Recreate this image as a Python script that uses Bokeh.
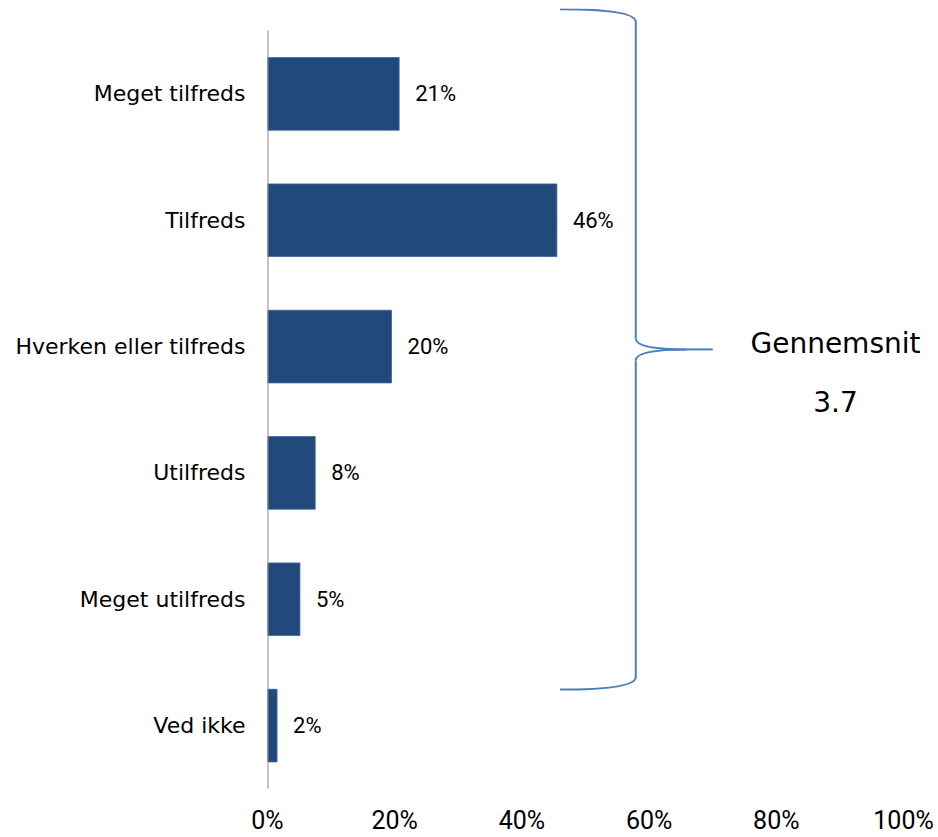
import numpy as np
from bokeh.plotting import figure
from bokeh.models import Range1d, FixedTicker, PrintfTickFormatter, ColumnDataSource
from bokeh.core.properties import value
from bokeh.embed import file_html
from bokeh.resources import INLINE

# ---- data ----
categories = ["Meget tilfreds", "Tilfreds", "Hverken eller tilfreds",
              "Utilfreds", "Meget utilfreds", "Ved ikke"]
shares = [20.7, 45.5, 19.5, 7.5, 5.1, 1.5]
share_labels = ["21%", "46%", "20%", "8%", "5%", "2%"]
x_ticks = [0, 20, 40, 60, 80, 100]
avg_title = "Gennemsnit"
avg_value = "3.7"
bracket_first = "Meget tilfreds"
bracket_last = "Meget utilfreds"

# ---- styles ----
BAR_COLOR = "#22497c"
BRACKET_COLOR = "#4a7ebb"
AXIS_GRAY = "#8a8a8a"
CAT_FONT = "DejaVu Sans"
NUM_FONT = "Roboto"

n = len(categories)
positions = [float(n - 1 - i) for i in range(n)]
pos_of = dict(zip(categories, positions))

src = ColumnDataSource(dict(cat=categories, pos=positions, share=shares, lab=share_labels))

p = figure(width=938, height=837, output_backend="svg", toolbar_location=None,
           x_range=Range1d(0, 105.5), y_range=Range1d(-0.506, 5.676),
           min_border_left=267, min_border_right=0, min_border_top=8,
           min_border_bottom=47)
p.outline_line_color = None
p.xgrid.visible = False
p.ygrid.visible = False
p.background_fill_color = "white"
p.border_fill_color = "white"

# bars
p.hbar(y="pos", left=0, right="share", height=0.575, source=src,
       fill_color=BAR_COLOR, line_color="#3a64a0", line_width=0.8)

# vertical category axis line
p.segment(x0=[0], y0=[min(positions) - 0.5], x1=[0], y1=[max(positions) + 0.5],
          line_color=AXIS_GRAY, line_width=2)

# value labels
p.text(x="share", y="pos", text="lab", source=src, x_offset=16,
       text_align="left", text_baseline="middle",
       text_font=value(NUM_FONT), text_font_size="22px", text_color="#000000")

# y axis
ya = p.yaxis[0]
ya.ticker = FixedTicker(ticks=positions)
ya.major_label_overrides = {pos: c for c, pos in zip(categories, positions)}
ya.axis_line_color = None
ya.major_tick_line_color = None
ya.minor_tick_line_color = None
ya.major_tick_out = 0
ya.major_tick_in = 0
ya.minor_tick_out = 0
ya.minor_tick_in = 0
ya.major_label_standoff = 22
ya.major_label_text_font = CAT_FONT
ya.major_label_text_font_size = "22px"
ya.major_label_text_color = "#000000"

# x axis
xa = p.xaxis[0]
xa.ticker = FixedTicker(ticks=x_ticks)
xa.formatter = PrintfTickFormatter(format="%d%%")
xa.axis_line_color = None
xa.major_tick_line_color = None
xa.minor_tick_line_color = None
xa.major_tick_out = 0
xa.major_tick_in = 0
xa.minor_tick_out = 0
xa.minor_tick_in = 0
xa.major_label_standoff = 16
xa.major_label_text_font = NUM_FONT
xa.major_label_text_font_size = "25px"
xa.major_label_text_color = "#000000"

# curly bracket spanning the rated answers
top = pos_of[bracket_first] + 0.67
bot = pos_of[bracket_last] - 0.715
mid = (top + bot) / 2
xa_arm, xv, xc, xtip = 46.0, 57.9, 65.9, 70.0
bend = 0.10
mbend = 0.087
p.quadratic(x0=[xa_arm, xv, xv, xv], y0=[top, mid + mbend, mid - mbend, bot + bend],
            x1=[xv, xc, xc, xa_arm], y1=[top - bend, mid, mid, bot],
            cx=[xv, xv, xv, xv], cy=[top, mid, mid, bot],
            line_color=BRACKET_COLOR, line_width=2)
p.segment(x0=[xv, xv, xc], y0=[top - bend, mid - mbend, mid],
          x1=[xv, xv, xtip], y1=[mid + mbend, bot + bend, mid],
          line_color=BRACKET_COLOR, line_width=2)

# average annotation
p.text(x=[89.3], y=[mid], text=[avg_title], y_offset=-6,
       text_align="center", text_baseline="alphabetic",
       text_font=value(CAT_FONT), text_font_size="28px", text_color="#000000")
p.text(x=[89.3], y=[mid], text=[avg_value], y_offset=52,
       text_align="center", text_baseline="alphabetic",
       text_font=value(CAT_FONT), text_font_size="28px", text_color="#000000")

open("out.html", "w").write(file_html(p, INLINE))
